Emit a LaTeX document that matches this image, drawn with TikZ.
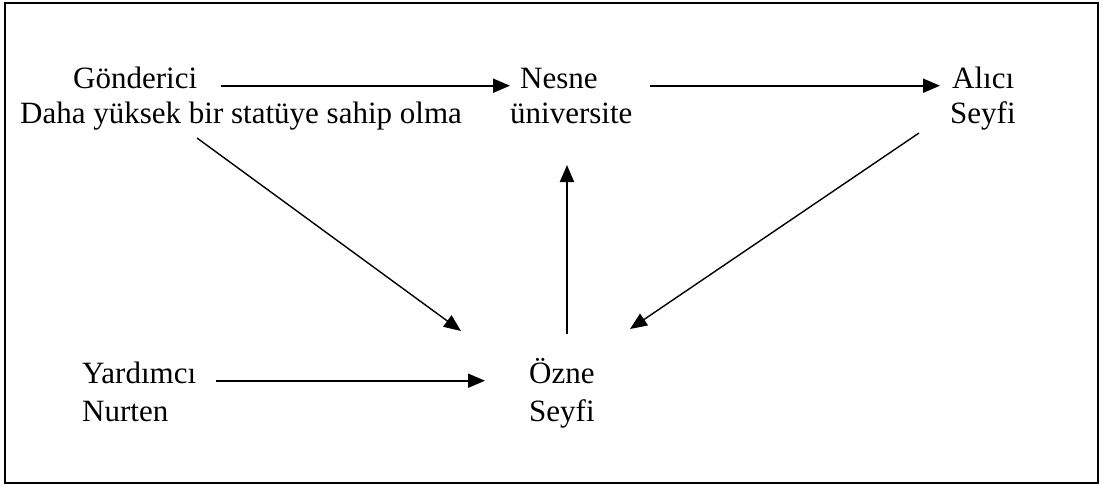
\documentclass[tikz,border=0pt]{standalone}
\usepackage{fontspec}
\setmainfont{Liberation Serif}
\usetikzlibrary{arrows.meta}

\begin{document}
\begin{tikzpicture}[x=1pt, y=-1pt, >={Triangle[length=17pt,width=14pt]},
  font=\fontsize{31}{36}\selectfont,
  txt/.style={anchor=base west, inner sep=0pt},
  flow/.style={->, line width=2pt},
  cross/.style={->, line width=1.4pt}]

\useasboundingbox (0,0) rectangle (1102,485);

% Frame
\draw[line width=2pt] (5,3) rectangle (1098,483);

% TOP ROW

% Sender
\node[txt] (gond) at (73,88) {Gönderici};
\node[txt] (gondsub) at (20,123) {Daha yüksek bir statüye sahip olma};

% Object
\node[txt] (nesne) at (520,88) {Nesne};
\node[txt] (univ) at (510,123) {üniversite};

% Receiver
\node[txt] (alici) at (952,88) {Alıcı};
\node[txt] (aliciname) at (950,123) {Seyfi};

% BOTTOM ROW

% Helper
\node[txt] (yard) at (82,383) {Yardımcı};
\node[txt] (yardname) at (82,421) {Nurten};

% Subject
\node[txt] (ozne) at (529,383) {Özne};
\node[txt] (ozname) at (529,421) {Seyfi};

% Horizontal arrows
\draw[flow, shorten <=24pt, shorten >=10pt] (gond.mid east) -- (nesne.mid west);
\draw[flow, shorten <=52pt, shorten >=12pt] (nesne.mid east) -- (alici.mid west);
\draw[flow, shorten <=20pt, shorten >=44pt] (yard.mid east) -- (ozne.mid west);

% Diagonal arrows
\draw[cross] ([shift={(177,15)}]gondsub.base west) -- ([shift={(-68,-52)}]ozne.base west);
\draw[cross] ([shift={(-31,10)}]aliciname.base west) -- ([shift={(101,-54)}]ozne.base west);

% Vertical arrow
\draw[flow] ([shift={(38,-49)}]ozne.base west) -- ([shift={(57,42)}]univ.base west);

\end{tikzpicture}
\end{document}
